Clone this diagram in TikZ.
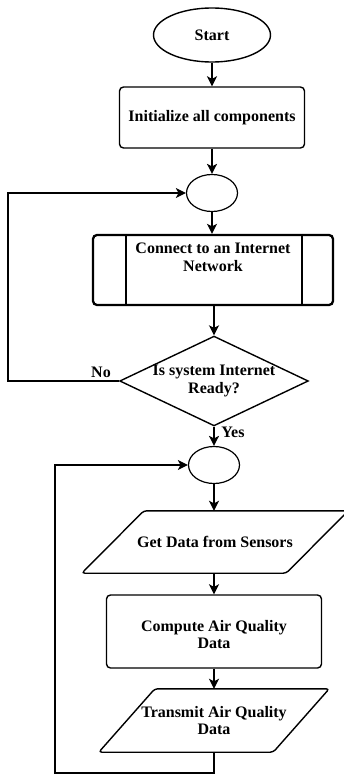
\documentclass[tikz,border=0pt]{standalone}
\usepackage{fontspec}
\setmainfont{Liberation Serif}
\usetikzlibrary{arrows.meta,positioning,shapes}

\begin{document}
\begin{tikzpicture}[x=1pt,y=-1pt,
  every node/.style={font=\bfseries\fontsize{16}{17.5}\selectfont},
  box/.style={draw,line width=1.4pt,rounded corners=4pt,align=center},
  io/.style={align=center,inner sep=0pt},
  joint/.style={draw,ellipse,line width=1.2pt,minimum width=51pt,minimum height=37pt},
  flow/.style={-{Stealth[length=10pt,width=10pt,inset=2.5pt]},line width=1.6pt},
  slant/.style={draw,line width=1.4pt,rounded corners=3pt}]

\useasboundingbox (0,0) rectangle (343,776);

% main column
\node[draw,ellipse,line width=1.4pt,minimum width=117pt,minimum height=54pt] (start) at (212,35) {Start};
\node[box,minimum width=185pt,minimum height=61pt] (init) at (212,117.5) {Initialize all components};
\node[joint] (c1) at (212,193) {};
\node[box,line width=2.3pt,minimum width=240pt,minimum height=70pt] (conn) at (213,270)
  {Connect to an Internet\\Network\\[8pt]};
\draw[line width=2.3pt] ([xshift=34pt]conn.north west) -- ([xshift=34pt]conn.south west);
\draw[line width=2.3pt] ([xshift=-32pt]conn.north east) -- ([xshift=-32pt]conn.south east);
\node[draw,diamond,line width=1.4pt,aspect=2.1,inner sep=0pt,minimum width=186pt,minimum height=88pt,align=center] (ready) at (214,381)
  {Is system Internet\\Ready?};
\node[joint] (c2) at (214,465) {};
\node[io,minimum width=204pt,minimum height=62pt] (get) at (215,542) {Get Data from Sensors};
\draw[slant] ([xshift=-31pt]get.south west) -- ([xshift=31pt]get.north west)
  -- ([xshift=31pt]get.north east) -- ([xshift=-31pt]get.south east) -- cycle;
\node[box,minimum width=215pt,minimum height=73pt] (comp) at (214,631.5) {\\[0pt]Compute Air Quality\\Data};
\node[io,minimum width=174pt,minimum height=63pt] (tx) at (214,720.5) {Transmit Air Quality\\Data};
\draw[slant] ([xshift=-28pt]tx.south west) -- ([xshift=28pt]tx.north west)
  -- ([xshift=28pt]tx.north east) -- ([xshift=-28pt]tx.south east) -- cycle;

% straight arrows
\draw[flow] (start.south) -- (start.south |- init.north);
\draw[flow] (init.south) -- (init.south |- c1.north);
\draw[flow] (c1.south) -- (c1.south |- conn.north);
\draw[flow] (conn.south -| ready.north) -- (ready.north);
\draw[flow] (ready.south) -- (ready.south |- c2.north);
\draw[flow] (c2.south) -- (c2.south |- get.north);
\draw[flow] (get.south -| comp.north) -- (comp.north);
\draw[flow] (comp.south) -- (comp.south |- tx.north);

% loops
\coordinate (nl) at (8,383);
\coordinate (bl) at (55,773);
\draw[flow,line width=1.2pt] (ready.west) -- (ready.west -| nl) |- (c1.west);
\draw[flow,line width=1.2pt] (tx.south) |- (bl) |- (c2.west);

\node (no) at (101,372) {No};
\node (yes) at (233,432) {Yes};
\end{tikzpicture}
\end{document}
